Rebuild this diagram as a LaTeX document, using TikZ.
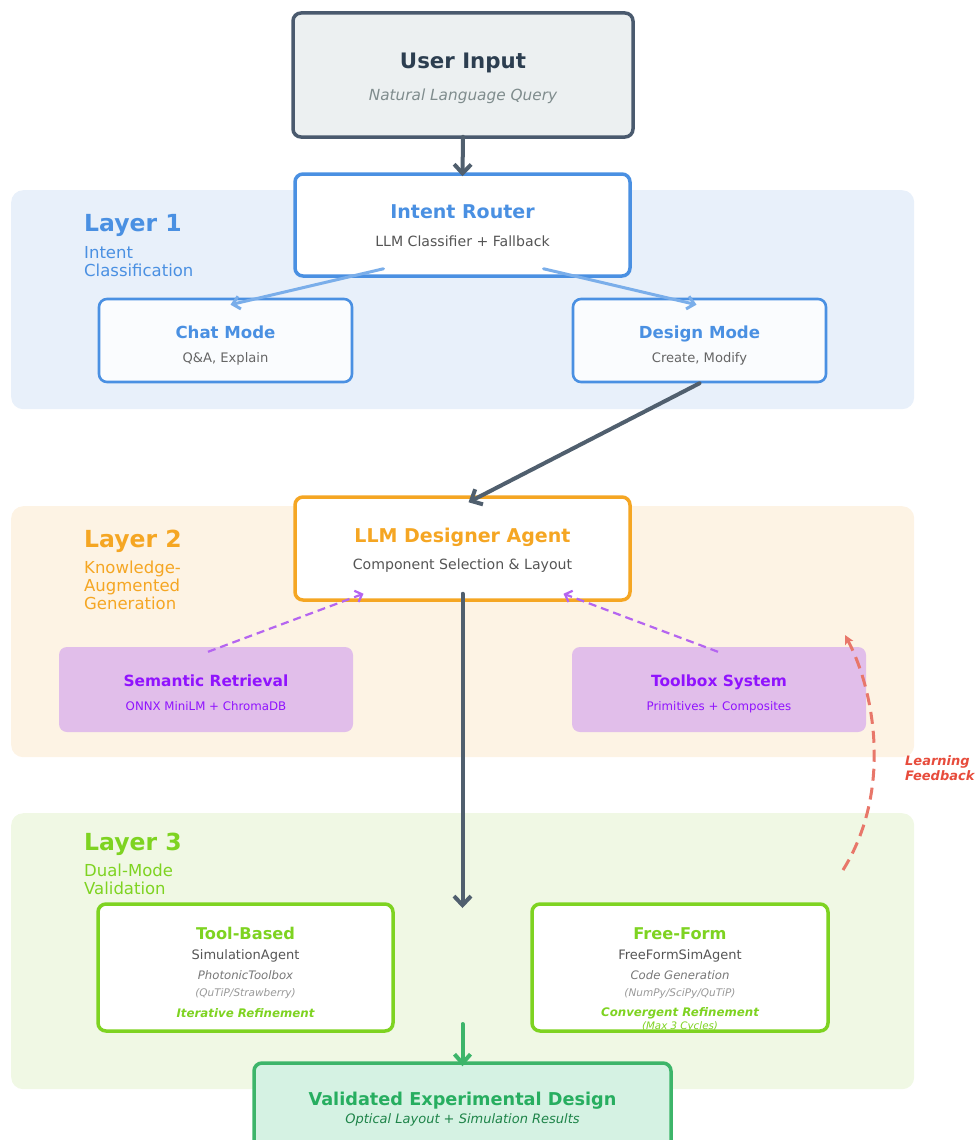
\documentclass[tikz,border=0pt]{standalone}
\usepackage{fontspec}
\setmainfont{DejaVu Sans}
\usetikzlibrary{arrows.meta,calc}
\definecolor{uiFill}{HTML}{ECF0F1}
\definecolor{uiDraw}{HTML}{4A5A6E}
\definecolor{uiText}{HTML}{2C3E50}
\definecolor{uiSub}{HTML}{7F8C8D}
\definecolor{blueC}{HTML}{4A90E2}
\definecolor{blueArr}{HTML}{7AAEEA}
\definecolor{bandA}{HTML}{E8F0FA}
\definecolor{bandB}{HTML}{FDF3E4}
\definecolor{bandC}{HTML}{F0F8E4}
\definecolor{orangeC}{HTML}{F5A623}
\definecolor{greenC}{HTML}{7ED321}
\definecolor{purpFill}{HTML}{E1BEEA}
\definecolor{purpText}{HTML}{9013FE}
\definecolor{purpArr}{HTML}{B565F0}
\definecolor{darkArr}{HTML}{505F6E}
\definecolor{valFill}{HTML}{D5F2E3}
\definecolor{valDraw}{HTML}{3DB56A}
\definecolor{valText}{HTML}{27AE60}
\definecolor{valSub}{HTML}{1E8449}
\definecolor{redArr}{HTML}{E8776A}
\definecolor{redText}{HTML}{E74C3C}
\definecolor{subGray}{HTML}{555555}
\definecolor{midGray}{HTML}{777777}
\definecolor{lightGray}{HTML}{999999}
\newcommand{\fs}[1]{\fontsize{#1}{#1}\selectfont}
\tikzset{
  band/.style={rounded corners=12pt, minimum width=903pt, anchor=north west, inner sep=0pt, draw=none},
  box/.style={rounded corners=8pt, inner sep=0pt},
  txt/.style={inner sep=0pt, anchor=base},
  ltxt/.style={inner sep=0pt, anchor=base west, align=left},
  darrow/.style={draw=darkArr, line width=4pt, line cap=round, -{Straight Barb[length=9pt,width=17pt]}},
  barrow/.style={draw=blueArr, line width=3pt, line cap=round, -{Straight Barb[length=7pt,width=13pt]}},
  parrow/.style={draw=purpArr, line width=2.2pt, dash pattern=on 8pt off 5pt, -{Straight Barb[length=6pt,width=12pt]}},
}
\begin{document}
\begin{tikzpicture}[x=1pt,y=-1pt]
\useasboundingbox (0,0) rectangle (976,1140);
\clip (0,0) rectangle (976,1140);
% bands
\node[band, fill=bandA, minimum height=219pt] (band1) at (11,190) {};
\node[band, fill=bandB, minimum height=251pt] (band2) at (11,506) {};
\node[band, fill=bandC, minimum height=276pt] (band3) at (11,813) {};
% layer labels
\node[ltxt, text=blueC, font=\bfseries\fs{23.5}] (l1) at (84,231) {Layer 1};
\node[ltxt, text=blueC, font=\fs{16.5}] (l1s) at (84,258) {Intent};
\node[ltxt, text=blueC, font=\fs{16.5}] (l1t) at (84,276) {Classification};
\node[ltxt, text=orangeC, font=\bfseries\fs{23.5}] (l2) at (84,547) {Layer 2};
\node[ltxt, text=orangeC, font=\fs{16.5}] (l2a) at (84,573) {Knowledge-};
\node[ltxt, text=orangeC, font=\fs{16.5}] (l2b) at (84,591) {Augmented};
\node[ltxt, text=orangeC, font=\fs{16.5}] (l2c) at (84,609) {Generation};
\node[ltxt, text=greenC, font=\bfseries\fs{23.5}] (l3) at (84,850) {Layer 3};
\node[ltxt, text=greenC, font=\fs{16.5}] (l3a) at (84,876) {Dual-Mode};
\node[ltxt, text=greenC, font=\fs{16.5}] (l3b) at (84,894) {Validation};
% user input
\node[box, fill=uiFill, draw=uiDraw, line width=3.5pt, minimum width=340pt, minimum height=124pt] (ui) at (463,75) {};
\node[txt, text=uiText, font=\bfseries\fs{21.3}] (uit) at (463,69) {User Input};
\node[txt, text=uiSub, font=\itshape\fs{15.3}] (uis) at (463,100) {Natural Language Query};
% router
\node[box, fill=white, draw=blueC, line width=3.5pt, minimum width=335pt, minimum height=102pt] (ir) at (462.5,225) {};
\node[txt, text=blueC, font=\bfseries\fs{19}] (irt) at (462.5,218) {Intent Router};
\node[txt, text=subGray, font=\fs{14.1}] (irs) at (462.5,246) {LLM Classifier + Fallback};
% chat / design
\node[box, fill=white!97!blueC, draw=blueC, line width=2.6pt, minimum width=253pt, minimum height=83pt] (chat) at (225.5,340.5) {};
\node[txt, text=blueC, font=\bfseries\fs{16.6}] (chatt) at (225.5,338) {Chat Mode};
\node[txt, text=midGray!85!black, font=\fs{13.1}] (chats) at (225.5,362) {Q\&A, Explain};
\node[box, fill=white!97!blueC, draw=blueC, line width=2.6pt, minimum width=253pt, minimum height=83pt] (design) at (699.5,340.5) {};
\node[txt, text=blueC, font=\bfseries\fs{16.6}] (designt) at (699.5,338) {Design Mode};
\node[txt, text=midGray!85!black, font=\fs{13.1}] (designs) at (699.5,362) {Create, Modify};
% LLM designer
\node[box, fill=white, draw=orangeC, line width=3.5pt, minimum width=335pt, minimum height=103pt] (llm) at (462.5,548.5) {};
\node[txt, text=orangeC, font=\bfseries\fs{19}] (llmt) at (462.5,542) {LLM Designer Agent};
\node[txt, text=subGray, font=\fs{14.1}] (llms) at (462.5,569) {Component Selection \& Layout};
% semantic / toolbox
\node[box, fill=purpFill, draw=none, minimum width=294pt, minimum height=85pt] (sem) at (206,689.5) {};
\node[txt, text=purpText, font=\bfseries\fs{15.4}] (semt) at (206,686) {Semantic Retrieval};
\node[txt, text=purpText, font=\fs{11.8}] (sems) at (206,710) {ONNX MiniLM + ChromaDB};
\node[box, fill=purpFill, draw=none, minimum width=294pt, minimum height=85pt] (tb) at (719,689.5) {};
\node[txt, text=purpText, font=\bfseries\fs{15.4}] (tbt) at (719,686) {Toolbox System};
\node[txt, text=purpText, font=\fs{11.8}] (tbs) at (719,710) {Primitives + Composites};
% tool-based / free-form
\node[box, fill=white, draw=greenC, line width=3.5pt, minimum width=295pt, minimum height=127pt] (tool) at (245.5,967.5) {};
\node[txt, text=greenC, font=\bfseries\fs{16.2}] (toolt) at (245.5,939) {Tool-Based};
\node[txt, text=subGray, font=\fs{13}] (tools) at (245.5,959) {SimulationAgent};
\node[txt, text=midGray, font=\itshape\fs{11.7}] (toolc) at (245.5,979) {PhotonicToolbox};
\node[txt, text=lightGray, font=\itshape\fs{10.5}] (toold) at (245.5,996) {(QuTiP/Strawberry)};
\node[txt, text=greenC, font=\bfseries\itshape\fs{11.8}] (toole) at (245.5,1017) {Iterative Refinement};
\node[box, fill=white, draw=greenC, line width=3.5pt, minimum width=296pt, minimum height=127pt] (free) at (680,967.5) {};
\node[txt, text=greenC, font=\bfseries\fs{16.2}] (freet) at (680,939) {Free-Form};
\node[txt, text=subGray, font=\fs{13}] (frees) at (680,959) {FreeFormSimAgent};
\node[txt, text=midGray, font=\itshape\fs{11.7}] (freec) at (680,979) {Code Generation};
\node[txt, text=lightGray, font=\itshape\fs{10.5}] (freed) at (680,996) {(NumPy/SciPy/QuTiP)};
\node[txt, text=greenC, font=\bfseries\itshape\fs{11.8}] (freee) at (680,1016) {Convergent Refinement};
\node[txt, text=greenC, font=\itshape\fs{10.3}] (freef) at (680,1029) {(Max 3 Cycles)};
% validated
\node[box, fill=valFill, draw=valDraw, line width=3.5pt, minimum width=417pt, minimum height=90pt] (val) at (462.5,1108) {};
\node[txt, text=valText, font=\bfseries\fs{17.7}] (valt) at (462.5,1105) {Validated Experimental Design};
\node[txt, text=valSub, font=\itshape\fs{13}] (vals) at (462.5,1123) {Optical Layout + Simulation Results};
% learning feedback label
\node[ltxt, text=redText, font=\bfseries\itshape\fs{13}] (lf1) at (905,765) {Learning};
\node[ltxt, text=redText, font=\bfseries\itshape\fs{13}] (lf2) at (905,780) {Feedback};
% connectors
\draw[darrow] ($(ui.south)+(0,-2)$) -- ($(ir.north)+(0,4)$);
\draw[barrow] ($(ir.south)+(-79,-9)$) -- ($(chat.north)+(5,7)$);
\draw[barrow] ($(ir.south)+(81,-9)$) -- ($(design.north)+(-3,7)$);
\draw[darrow] (design.south) -- ($(llm.north)+(6,7)$);
\draw[parrow] ($(sem.north)+(2,5)$) -- ($(llm.south)+(-99,-8)$);
\draw[parrow] ($(tb.north)+(-1,5)$) -- ($(llm.south)+(101,-8)$);
\coordinate (mid) at (462.5,908);
\draw[darrow] ($(llm.south)+(0,-8)$) -- (mid);
\coordinate (gstart) at (462.5,1024);
\draw[draw=valDraw, line width=4pt, line cap=round, -{Straight Barb[length=9pt,width=16pt]}] (gstart) -- ($(val.north)+(0,5)$);
\coordinate (fbs) at (843,870);
\coordinate (fbe) at (845,635);
\draw[draw=redArr, line width=3pt, dash pattern=on 12pt off 7pt, -{Stealth[length=9pt,width=9pt,inset=2pt]}] (fbs) .. controls (893,790) and (874,690) .. (fbe);
\end{tikzpicture}
\end{document}
